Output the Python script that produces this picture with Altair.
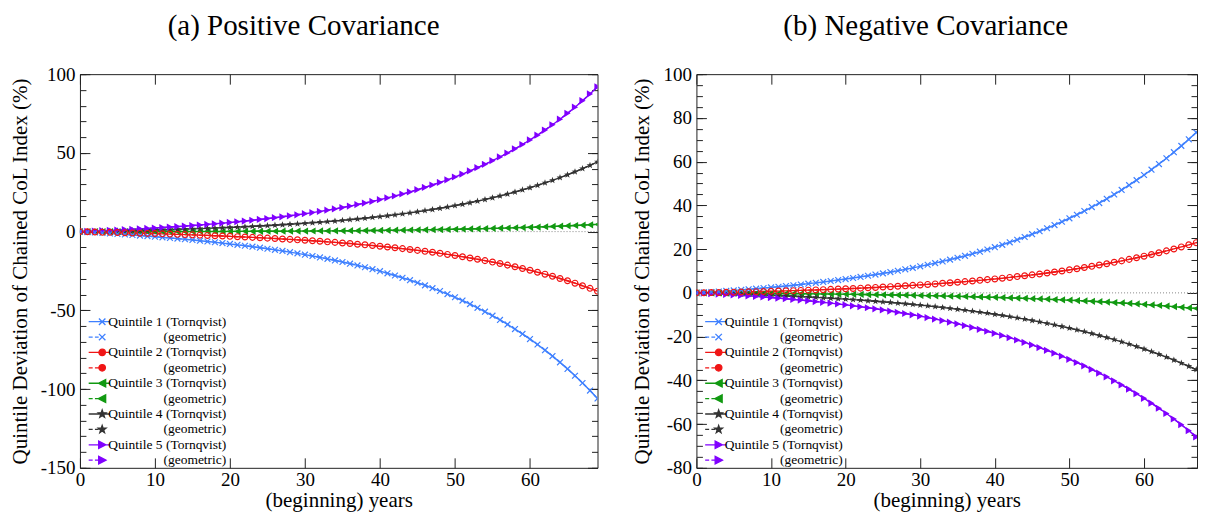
import json
import altair as alt
import pandas as pd

# ---------------- data ----------------
years = list(range(70))

left_q1 = [0, -0.28, -0.57, -0.86, -1.17, -1.49, -1.81, -2.15, -2.50, -2.86,
           -3.23, -3.62, -4.02, -4.43, -4.86, -5.31, -5.77, -6.26, -6.76, -7.28,
           -7.82, -8.38, -8.96, -9.57, -10.21, -10.87, -11.56, -12.28, -13.03, -13.81,
           -14.63, -15.49, -16.38, -17.31, -18.28, -19.30, -20.36, -21.47, -22.64, -23.85,
           -25.13, -26.46, -27.86, -29.32, -30.85, -32.45, -34.13, -35.89, -37.73, -39.66,
           -41.69, -43.81, -46.04, -48.37, -50.82, -53.39, -56.08, -58.91, -61.87, -64.98,
           -68.25, -71.68, -75.27, -79.05, -83.01, -87.17, -91.54, -96.12, -100.93, -105.99]
left_q2 = [0, -0.11, -0.23, -0.34, -0.46, -0.59, -0.71, -0.85, -0.98, -1.12,
           -1.26, -1.41, -1.57, -1.72, -1.89, -2.06, -2.23, -2.41, -2.60, -2.80,
           -3.00, -3.21, -3.43, -3.65, -3.89, -4.13, -4.38, -4.65, -4.92, -5.21,
           -5.51, -5.82, -6.14, -6.48, -6.83, -7.20, -7.58, -7.98, -8.40, -8.84,
           -9.30, -9.77, -10.27, -10.79, -11.34, -11.91, -12.51, -13.13, -13.79, -14.47,
           -15.19, -15.94, -16.73, -17.56, -18.42, -19.33, -20.28, -21.27, -22.32, -23.41,
           -24.56, -25.77, -27.03, -28.36, -29.75, -31.21, -32.74, -34.35, -36.03, -37.80]
left_q3 = [0, 0.00, 0.00, 0.00, 0.01, 0.01, 0.01, 0.02, 0.02, 0.03,
           0.03, 0.04, 0.05, 0.06, 0.06, 0.07, 0.09, 0.10, 0.11, 0.12,
           0.14, 0.15, 0.17, 0.19, 0.21, 0.23, 0.25, 0.28, 0.30, 0.33,
           0.36, 0.39, 0.42, 0.46, 0.49, 0.53, 0.58, 0.62, 0.67, 0.72,
           0.77, 0.83, 0.89, 0.95, 1.02, 1.09, 1.16, 1.24, 1.32, 1.41,
           1.50, 1.60, 1.70, 1.81, 1.92, 2.04, 2.17, 2.30, 2.45, 2.59,
           2.75, 2.92, 3.09, 3.27, 3.47, 3.67, 3.89, 4.11, 4.35, 4.60]
left_q4 = [0, 0.08, 0.17, 0.26, 0.36, 0.46, 0.56, 0.67, 0.79, 0.91,
           1.03, 1.16, 1.30, 1.44, 1.59, 1.75, 1.92, 2.09, 2.27, 2.46,
           2.66, 2.87, 3.09, 3.32, 3.57, 3.82, 4.08, 4.36, 4.66, 4.96,
           5.29, 5.63, 5.98, 6.36, 6.75, 7.16, 7.59, 8.04, 8.52, 9.02,
           9.55, 10.10, 10.68, 11.29, 11.93, 12.60, 13.30, 14.04, 14.82, 15.64,
           16.50, 17.40, 18.35, 19.35, 20.40, 21.50, 22.65, 23.87, 25.15, 26.49,
           27.90, 29.38, 30.94, 32.57, 34.29, 36.10, 38.00, 40.00, 42.10, 44.30]
left_q5 = [0, 0.19, 0.39, 0.59, 0.81, 1.03, 1.26, 1.50, 1.75, 2.02,
           2.29, 2.58, 2.88, 3.19, 3.52, 3.86, 4.22, 4.59, 4.98, 5.39,
           5.82, 6.26, 6.73, 7.22, 7.74, 8.27, 8.84, 9.43, 10.05, 10.69,
           11.37, 12.09, 12.83, 13.61, 14.44, 15.30, 16.20, 17.15, 18.14, 19.18,
           20.28, 21.43, 22.63, 23.90, 25.22, 26.62, 28.08, 29.62, 31.23, 32.92,
           34.70, 36.57, 38.53, 40.59, 42.75, 45.03, 47.41, 49.92, 52.55, 55.32,
           58.23, 61.28, 64.49, 67.86, 71.40, 75.12, 79.03, 83.14, 87.46, 91.99]

right_q1 = [0, 0.20, 0.41, 0.64, 0.87, 1.11, 1.36, 1.63, 1.90, 2.19,
            2.49, 2.80, 3.13, 3.47, 3.83, 4.20, 4.59, 4.99, 5.41, 5.85,
            6.31, 6.79, 7.29, 7.81, 8.35, 8.91, 9.50, 10.12, 10.76, 11.42,
            12.12, 12.84, 13.60, 14.38, 15.20, 16.06, 16.94, 17.87, 18.84, 19.84,
            20.89, 21.98, 23.12, 24.30, 25.53, 26.82, 28.16, 29.55, 31.00, 32.51,
            34.08, 35.72, 37.43, 39.21, 41.06, 42.98, 44.99, 47.08, 49.25, 51.52,
            53.88, 56.33, 58.89, 61.55, 64.32, 67.21, 70.21, 73.34, 76.59, 79.98]
right_q2 = [0, 0.06, 0.12, 0.18, 0.25, 0.32, 0.39, 0.47, 0.55, 0.63,
            0.72, 0.81, 0.91, 1.01, 1.12, 1.23, 1.34, 1.46, 1.59, 1.72,
            1.86, 2.01, 2.16, 2.32, 2.48, 2.66, 2.84, 3.03, 3.22, 3.43,
            3.64, 3.87, 4.10, 4.35, 4.60, 4.87, 5.14, 5.43, 5.73, 6.05,
            6.37, 6.71, 7.07, 7.44, 7.83, 8.23, 8.65, 9.09, 9.55, 10.02,
            10.52, 11.03, 11.57, 12.13, 12.72, 13.33, 13.96, 14.62, 15.31, 16.03,
            16.77, 17.55, 18.36, 19.20, 20.08, 21.00, 21.95, 22.95, 23.98, 25.06]
right_q3 = [0, -0.02, -0.04, -0.06, -0.09, -0.11, -0.14, -0.16, -0.19, -0.22,
            -0.25, -0.28, -0.31, -0.35, -0.38, -0.42, -0.46, -0.50, -0.54, -0.58,
            -0.63, -0.67, -0.72, -0.77, -0.83, -0.88, -0.94, -1.00, -1.06, -1.13,
            -1.20, -1.27, -1.34, -1.42, -1.50, -1.58, -1.67, -1.76, -1.86, -1.95,
            -2.06, -2.16, -2.28, -2.39, -2.51, -2.64, -2.77, -2.91, -3.05, -3.20,
            -3.35, -3.51, -3.68, -3.85, -4.03, -4.22, -4.42, -4.62, -4.83, -5.05,
            -5.28, -5.52, -5.77, -6.03, -6.30, -6.59, -6.88, -7.18, -7.50, -7.83]
right_q4 = [0, -0.09, -0.18, -0.28, -0.39, -0.49, -0.61, -0.73, -0.85, -0.98,
            -1.12, -1.26, -1.41, -1.57, -1.73, -1.90, -2.08, -2.27, -2.47, -2.67,
            -2.88, -3.11, -3.34, -3.59, -3.84, -4.11, -4.38, -4.67, -4.97, -5.29,
            -5.62, -5.96, -6.32, -6.69, -7.08, -7.49, -7.91, -8.35, -8.81, -9.29,
            -9.79, -10.32, -10.86, -11.43, -12.02, -12.63, -13.27, -13.94, -14.64, -15.37,
            -16.12, -16.91, -17.73, -18.59, -19.48, -20.41, -21.37, -22.38, -23.43, -24.52,
            -25.66, -26.85, -28.08, -29.37, -30.71, -32.10, -33.56, -35.07, -36.64, -38.28]
right_q5 = [0, -0.17, -0.35, -0.54, -0.74, -0.95, -1.16, -1.39, -1.63, -1.88,
            -2.14, -2.41, -2.70, -3.00, -3.31, -3.63, -3.97, -4.33, -4.70, -5.09,
            -5.49, -5.91, -6.35, -6.81, -7.29, -7.80, -8.32, -8.86, -9.43, -10.03,
            -10.65, -11.29, -11.97, -12.67, -13.40, -14.16, -14.96, -15.79, -16.66, -17.56,
            -18.50, -19.48, -20.50, -21.56, -22.67, -23.82, -25.03, -26.28, -27.59, -28.95,
            -30.37, -31.84, -33.38, -34.99, -36.66, -38.39, -40.21, -42.09, -44.06, -46.10,
            -48.23, -50.45, -52.77, -55.17, -57.68, -60.29, -63.01, -65.84, -68.78, -71.85]

quintiles = ["1", "2", "3", "4", "5"]
colors = ["#3f80ff", "#f01515", "#119911", "#333333", "#8000ff"]
x_ticks = [0, 10, 20, 30, 40, 50, 60]
left_y_major = [-150, -100, -50, 0, 50, 100]
left_y_minor = list(range(-150, 101, 10))
right_y_major = [-80, -60, -40, -20, 0, 20, 40, 60, 80, 100]
right_y_minor = list(range(-80, 101, 5))

FONT = "Liberation Serif"
INK = "#222222"

keys_t = ["Q%sT" % q for q in quintiles]
keys_g = ["Q%sG" % q for q in quintiles]
keys_all = [k for pair in zip(keys_t, keys_g) for k in pair]
colors_all = [c for c in colors for _ in (0, 1)]
color_of = dict(zip(keys_all, colors_all))

# plot marker shapes (Tornqvist markers)
star = ("M0,-1L0.235,-0.324L0.951,-0.309L0.38,0.124L0.588,0.809L0,0.4L-0.588,0.809"
        "L-0.38,0.124L-0.951,-0.309L-0.235,-0.324Z")
plot_shapes = ["M-1,-1L1,1M-1,1L1,-1", "circle", "triangle-left", star, "triangle-right"]

# legend symbols: line (solid / dashed) plus marker, in legend-symbol units
line_t = "M-1,0L3.2,0"
line_g = "M-1,0L-0.2,0M0.25,0L1.0,0"
mk = [
    "M1.05,-0.65L2.35,0.65M1.05,0.65L2.35,-0.65",
    "M2.35,0A0.65,0.65,0,1,1,1.05,0A0.65,0.65,0,1,1,2.35,0Z",
    "M0.95,0L2.4,-0.75L2.4,0.75Z",
    ("M1.7,-0.8L1.888,-0.259L2.461,-0.247L2.004,0.099L2.17,0.647L1.7,0.32L1.23,0.647"
     "L1.396,0.099L0.939,-0.247L1.512,-0.259Z"),
    "M2.45,0L1.0,-0.75L1.0,0.75Z",
]
legend_shape = {}
legend_fill = {}
for i, q in enumerate(quintiles):
    legend_shape["Q%sT" % q] = line_t + mk[i]
    legend_shape["Q%sG" % q] = line_g + mk[i]
    legend_fill["Q%sT" % q] = "transparent" if i == 0 else colors[i]
    legend_fill["Q%sG" % q] = "transparent"

legend_text = {}
for q in quintiles:
    legend_text["Q%sT" % q] = "Quintile %s (Tornqvist)" % q
    legend_text["Q%sG" % q] = "(geometric)"


def ternary(var, mapping, default):
    expr = json.dumps(default)
    for k in reversed(list(mapping.keys())):
        expr = "%s === '%s' ? %s : %s" % (var, k, json.dumps(mapping[k]), expr)
    return expr


shape_expr = ternary("datum.value", legend_shape, "circle")
fill_expr = ternary("datum.value", legend_fill, "transparent")
stroke_expr = ternary("datum.value", color_of, "black")
label_expr = ternary("datum.value", legend_text, "")


def make_df(arrays):
    rows = []
    for q, arr in zip(quintiles, arrays):
        for t, v in zip(years, arr):
            rows.append({"t": t, "v": v, "series": "Q%sT" % q})
            rows.append({"t": t, "v": v, "series": "Q%sG" % q})
    return pd.DataFrame(rows)


def tick_axis(orient, offset, values, size):
    return alt.Axis(orient=orient, offset=offset, values=values, labels=False, domain=False,
                    grid=False, ticks=True, tickSize=size, tickColor=INK, tickWidth=1, title=None)


def panel(arrays, title, W, H, xmax, ydom, ymajor, yminor, title_dx):
    df = make_df(arrays)
    xs = alt.Scale(domain=[0, xmax], nice=False, zero=False)
    ys = alt.Scale(domain=ydom, nice=False, zero=False)

    legend = alt.Legend(
        orient="none", legendX=7, legendY=241, title=None, direction="vertical",
        labelFont=FONT, labelFontSize=13.5, labelColor="black", labelExpr=label_expr,
        labelAlign="right", labelOffset=126,
        symbolSize=100, rowPadding=0.4, padding=0, labelLimit=300,
        symbolType={"expr": shape_expr},
        symbolFillColor={"expr": fill_expr},
        symbolStrokeColor={"expr": stroke_expr},
        symbolStrokeWidth=1.3, symbolOpacity=1,
    )

    def col():
        return alt.Color("series:N", scale=alt.Scale(domain=keys_all, range=colors_all), legend=legend)

    shp = alt.Shape("series:N", scale=alt.Scale(domain=keys_t, range=plot_shapes), legend=None)
    base = alt.Chart(df)

    x_lab = alt.Axis(orient="bottom", values=x_ticks, ticks=False, domain=False, grid=False,
                     labelPadding=3, labelFontSize=19, labelFlush=False, labelOverlap=False,
                     title="(beginning) years", titleFontSize=21, titlePadding=0)
    y_lab = alt.Axis(orient="left", values=ymajor, ticks=False, domain=False, grid=False,
                     labelPadding=5, labelFontSize=19, labelFlush=False, labelOverlap=False,
                     labelExpr="datum.value + ''",
                     title="Quintile Deviation of Chained CoL Index (%)", titleFontSize=21,
                     titlePadding=10)

    zero = alt.Chart(pd.DataFrame({"z": [0]})).mark_rule(
        strokeDash=[1, 2], color="#888888", strokeWidth=1).encode(
        y=alt.Y("z:Q", scale=ys, axis=tick_axis("left", -W, yminor, 6)))

    geo = base.transform_filter(alt.FieldOneOfPredicate(field="series", oneOf=keys_g)).mark_line(
        strokeDash=[4, 3], strokeWidth=1.4, clip=True).encode(
        x=alt.X("t:Q", scale=xs, axis=tick_axis("top", -H, x_ticks, 10)),
        y=alt.Y("v:Q", scale=ys, axis=tick_axis("right", -W, ymajor, 10)),
        color=col())

    torn = base.transform_filter(alt.FieldOneOfPredicate(field="series", oneOf=keys_t)).mark_line(
        strokeWidth=1.4, clip=True).encode(
        x=alt.X("t:Q", scale=xs, axis=x_lab),
        y=alt.Y("v:Q", scale=ys, axis=y_lab),
        color=col())

    pts_f = base.transform_filter(alt.FieldOneOfPredicate(field="series", oneOf=keys_t[2:])).mark_point(
        filled=True, size=52, opacity=1, clip=True).encode(
        x=alt.X("t:Q", scale=xs, axis=tick_axis("bottom", -H, x_ticks, 10)),
        y=alt.Y("v:Q", scale=ys, axis=tick_axis("left", -W, ymajor, 10)),
        color=col(), shape=shp)

    pts_o = base.transform_filter(alt.FieldOneOfPredicate(field="series", oneOf=keys_t[:2])).mark_point(
        filled=False, size=34, strokeWidth=1.2, opacity=1, clip=True).encode(
        x=alt.X("t:Q", scale=xs, axis=None),
        y=alt.Y("v:Q", scale=ys, axis=tick_axis("right", -W, yminor, 6)),
        color=col(), shape=shp)

    return alt.layer(zero, geo, torn, pts_f, pts_o).resolve_axis(
        x="independent", y="independent").properties(
        width=W, height=H,
        title=alt.TitleParams(title, font=FONT, fontSize=29, fontWeight="normal", color="black",
                              baseline="alphabetic", offset=1, frame="bounds", anchor="middle",
                              dx=title_dx))


left = panel([left_q1, left_q2, left_q3, left_q4, left_q5], "(a) Positive Covariance",
             518, 394, 69, [-150, 100], left_y_major, left_y_minor, 0)
right = panel([right_q1, right_q2, right_q3, right_q4, right_q5], "(b) Negative Covariance",
              501, 394, 67.1, [-80, 100], right_y_major, right_y_minor, 11)

chart = alt.hconcat(left, right, spacing=99, bounds="flush").resolve_scale(
    color="independent", shape="independent", x="independent", y="independent"
).properties(
    padding={"left": 0, "top": 3, "right": 0, "bottom": 0}
).configure_view(
    stroke=INK, strokeWidth=1
).configure_axis(
    labelFont=FONT, titleFont=FONT, labelColor="black", titleColor="black", titleFontWeight="normal"
).configure_legend(
    labelFont=FONT
).configure_title(
    font=FONT
)

chart.save("out.html", embed_options={"renderer": "svg", "actions": False})
